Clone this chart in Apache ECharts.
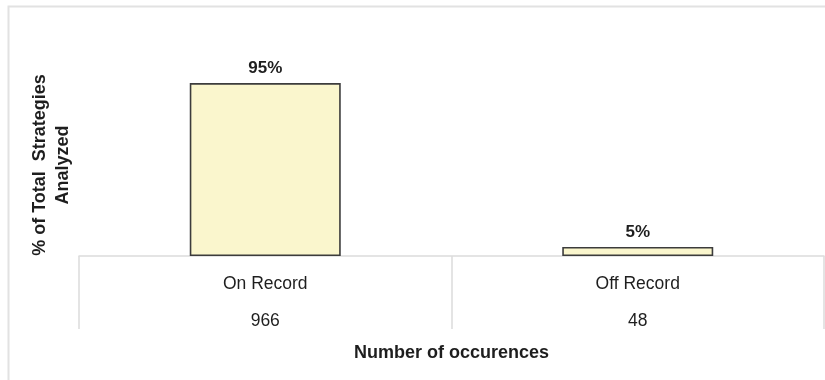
<!DOCTYPE html>
<html>
<head>
<meta charset="utf-8">
<script src="https://cdn.jsdelivr.net/npm/echarts@6/dist/echarts.min.js"></script>
<style>
  html, body { margin: 0; padding: 0; background: #ffffff; }
  #chart { width: 825px; height: 380px; }
</style>
</head>
<body>
<div id="chart"></div>
<script>
// Categories of strategies, share of total (%) and raw counts
const categories = ['On Record', 'Off Record'];
const percentValues = [95, 5];
const occurrenceCounts = [966, 48];

const yAxisTitle = '% of Total  Strategies\nAnalyzed';
const xAxisTitle = 'Number of occurences';

const FONT = '"Liberation Sans", Arial, sans-serif';
const TEXT = '#1e1e1e';
const RULE = '#dcdcdc';

const chart = echarts.init(document.getElementById('chart'), null, { renderer: 'canvas' });

chart.setOption({
  backgroundColor: '#ffffff',
  animation: false,
  grid: { left: 79, right: 1, top: 74, bottom: 124, containLabel: false },
  graphic: [
    {
      type: 'rect',
      shape: { x: 8.5, y: 6.5, width: 840, height: 400 },
      style: { fill: 'none', stroke: '#e2e2e2', lineWidth: 2 },
      silent: true,
      z: -10
    },
    {
      type: 'text',
      x: 52,
      y: 165,
      rotation: Math.PI / 2,
      style: {
        text: yAxisTitle,
        font: 'bold 18px ' + FONT,
        fill: TEXT,
        align: 'center',
        verticalAlign: 'middle',
        lineHeight: 23
      }
    }
  ],
  xAxis: {
    type: 'category',
    data: categories,
    boundaryGap: true,
    axisLine: { show: true, lineStyle: { color: RULE, width: 1.5 } },
    axisTick: { show: true, length: 73, lineStyle: { color: RULE, width: 1.5 } },
    axisLabel: {
      margin: 10,
      formatter: function (value, idx) {
        return '{n|' + value + '}\n{c|' + occurrenceCounts[idx] + '}';
      },
      rich: {
        n: { fontFamily: FONT, fontSize: 17.5, color: TEXT, lineHeight: 37 },
        c: { fontFamily: FONT, fontSize: 17.5, color: TEXT, lineHeight: 37 }
      }
    },
    name: xAxisTitle,
    nameLocation: 'middle',
    nameGap: 88,
    nameTextStyle: { fontFamily: FONT, fontSize: 18, fontWeight: 'bold', color: TEXT }
  },
  yAxis: {
    type: 'value',
    min: 0,
    max: 100,
    show: false,
    splitLine: { show: false }
  },
  series: [
    {
      type: 'bar',
      data: percentValues,
      barWidth: 151,
      itemStyle: {
        color: '#faf6cd',
        borderColor: '#3c3c3c',
        borderWidth: 1.6
      },
      label: {
        show: true,
        position: 'top',
        distance: 6,
        formatter: '{c}%',
        fontFamily: FONT,
        fontSize: 17,
        fontWeight: 'bold',
        color: TEXT
      }
    }
  ]
});
</script>
</body>
</html>
